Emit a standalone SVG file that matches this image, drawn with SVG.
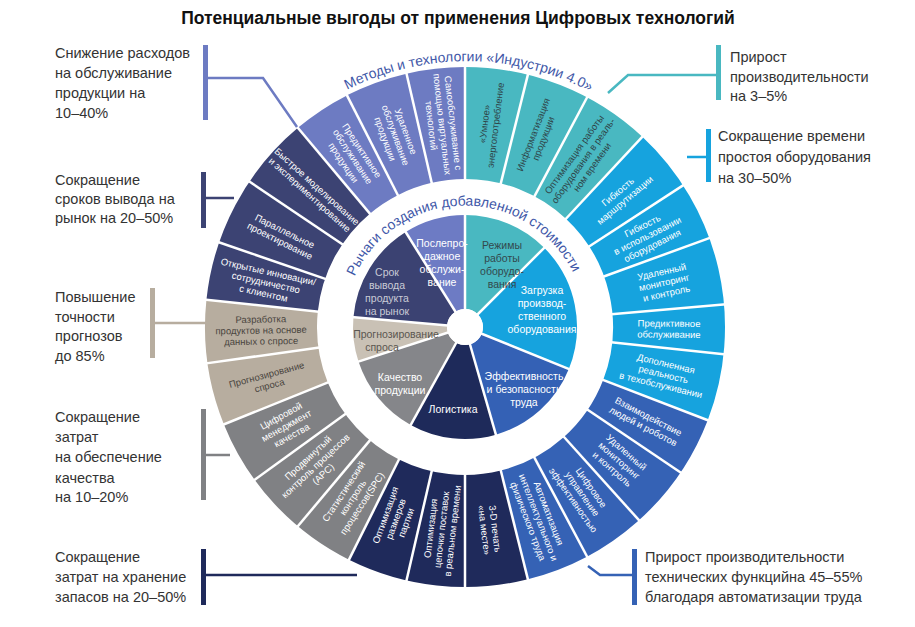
<svg xmlns="http://www.w3.org/2000/svg" width="915" height="627" viewBox="0 0 915 627">
<defs>
<style>
text{font-family:"Liberation Sans",Arial,sans-serif}
.seg{fill:none;stroke-width:112}
.sec{fill:none;stroke-width:94}
.sep{stroke:#fff;stroke-width:2.5}
.st{font-size:9.5px;text-anchor:middle;fill:#fff}
.sd{fill:#2f4448}
.sb{fill:#4a4540}
.it{font-size:10.5px;text-anchor:middle;fill:#fff}
.co{font-size:14.5px;fill:#333}
.arc{font-size:14px;fill:#3f58a8}
</style>
<path id="outerArc" d="M 327.7 100.5 A 266 266 0 0 1 609.1 102.6" fill="none"/>
<path id="innerArc" d="M 350.9 285.5 A 121 121 0 0 1 577.1 281.7" fill="none"/>
</defs>
<rect width="915" height="627" fill="#fff"/>
<text x="458" y="24" font-size="17.5" font-weight="bold" text-anchor="middle" fill="#111">Потенциальные выгоды от применения Цифровых технологий</text>

<g id="outer-ring">
<g stroke="#6d7bc2"><circle class="seg" cx="465" cy="327" r="204" pathLength="360" stroke-dasharray="13 400" transform="rotate(-130 465 327)"/><circle class="seg" cx="465" cy="327" r="204" pathLength="360" stroke-dasharray="14 400" transform="rotate(-117 465 327)"/><circle class="seg" cx="465" cy="327" r="204" pathLength="360" stroke-dasharray="13 400" transform="rotate(-103 465 327)"/></g>
<g stroke="#3c4373"><circle class="seg" cx="465" cy="327" r="204" pathLength="360" stroke-dasharray="44 400" transform="rotate(-174 465 327)"/></g>
<g stroke="#b7ad9f"><circle class="seg" cx="465" cy="327" r="204" pathLength="360" stroke-dasharray="28 400" transform="rotate(-202 465 327)"/></g>
<g stroke="#808184"><circle class="seg" cx="465" cy="327" r="204" pathLength="360" stroke-dasharray="41.5 400" transform="rotate(-243.5 465 327)"/></g>
<g stroke="#1f2a5b"><circle class="seg" cx="465" cy="327" r="204" pathLength="360" stroke-dasharray="40.5 400" transform="rotate(76 465 327)"/></g>
<g stroke="#3562b5"><circle class="seg" cx="465" cy="327" r="204" pathLength="360" stroke-dasharray="55 400" transform="rotate(21 465 327)"/></g>
<g stroke="#16a3de"><circle class="seg" cx="465" cy="327" r="204" pathLength="360" stroke-dasharray="68 400" transform="rotate(-47 465 327)"/></g>
<g stroke="#49b8c1"><circle class="seg" cx="465" cy="327" r="204" pathLength="360" stroke-dasharray="43 400" transform="rotate(-90 465 327)"/></g>
</g>

<g id="inner-ring">
<circle class="sec" stroke="#6d7bc4" cx="465" cy="327" r="65" pathLength="360" stroke-dasharray="32 400" transform="rotate(-122 465 327)"/>
<circle class="sec" stroke="#3b4272" cx="465" cy="327" r="65" pathLength="360" stroke-dasharray="53 400" transform="rotate(-175 465 327)"/>
<circle class="sec" stroke="#c9c1b5" cx="465" cy="327" r="65" pathLength="360" stroke-dasharray="23 400" transform="rotate(-198 465 327)"/>
<circle class="sec" stroke="#85868a" cx="465" cy="327" r="65" pathLength="360" stroke-dasharray="43 400" transform="rotate(-241 465 327)"/>
<circle class="sec" stroke="#1e2a5a" cx="465" cy="327" r="65" pathLength="360" stroke-dasharray="45 400" transform="rotate(74 465 327)"/>
<circle class="sec" stroke="#3461b5" cx="465" cy="327" r="65" pathLength="360" stroke-dasharray="52 400" transform="rotate(22 465 327)"/>
<circle class="sec" stroke="#16a3de" cx="465" cy="327" r="65" pathLength="360" stroke-dasharray="67 400" transform="rotate(-45 465 327)"/>
<circle class="sec" stroke="#49b8c1" cx="465" cy="327" r="65" pathLength="360" stroke-dasharray="45 400" transform="rotate(-90 465 327)"/>
<circle cx="465" cy="327" r="18" fill="#fff"/>
</g>

<g id="separators">
<line class="sep" x1="465" y1="180" x2="465" y2="62" transform="rotate(0 465 327)"/>
<line class="sep" x1="465" y1="180" x2="465" y2="62" transform="rotate(-13 465 327)"/>
<line class="sep" x1="465" y1="180" x2="465" y2="62" transform="rotate(-27 465 327)"/>
<line class="sep" x1="465" y1="180" x2="465" y2="62" transform="rotate(-40 465 327)"/>
<line class="sep" x1="465" y1="180" x2="465" y2="62" transform="rotate(-56 465 327)"/>
<line class="sep" x1="465" y1="180" x2="465" y2="62" transform="rotate(-71 465 327)"/>
<line class="sep" x1="465" y1="180" x2="465" y2="62" transform="rotate(-84 465 327)"/>
<line class="sep" x1="465" y1="180" x2="465" y2="62" transform="rotate(-98 465 327)"/>
<line class="sep" x1="465" y1="180" x2="465" y2="62" transform="rotate(-112 465 327)"/>
<line class="sep" x1="465" y1="180" x2="465" y2="62" transform="rotate(-126 465 327)"/>
<line class="sep" x1="465" y1="180" x2="465" y2="62" transform="rotate(-140 465 327)"/>
<line class="sep" x1="465" y1="180" x2="465" y2="62" transform="rotate(-153.5 465 327)"/>
<line class="sep" x1="465" y1="180" x2="465" y2="62" transform="rotate(-167 465 327)"/>
<line class="sep" x1="465" y1="180" x2="465" y2="62" transform="rotate(180 465 327)"/>
<line class="sep" x1="465" y1="180" x2="465" y2="62" transform="rotate(166 465 327)"/>
<line class="sep" x1="465" y1="180" x2="465" y2="62" transform="rotate(152 465 327)"/>
<line class="sep" x1="465" y1="180" x2="465" y2="62" transform="rotate(138 465 327)"/>
<line class="sep" x1="465" y1="180" x2="465" y2="62" transform="rotate(124 465 327)"/>
<line class="sep" x1="465" y1="180" x2="465" y2="62" transform="rotate(111 465 327)"/>
<line class="sep" x1="465" y1="180" x2="465" y2="62" transform="rotate(96 465 327)"/>
<line class="sep" x1="465" y1="180" x2="465" y2="62" transform="rotate(85 465 327)"/>
<line class="sep" x1="465" y1="180" x2="465" y2="62" transform="rotate(70 465 327)"/>
<line class="sep" x1="465" y1="180" x2="465" y2="62" transform="rotate(57 465 327)"/>
<line class="sep" x1="465" y1="180" x2="465" y2="62" transform="rotate(43 465 327)"/>
<line class="sep" x1="465" y1="180" x2="465" y2="62" transform="rotate(28 465 327)"/>
<line class="sep" x1="465" y1="180" x2="465" y2="62" transform="rotate(14 465 327)"/>
<line class="sep" x1="465" y1="327" x2="465" y2="210" transform="rotate(0 465 327)"/>
<line class="sep" x1="465" y1="327" x2="465" y2="210" transform="rotate(-32 465 327)"/>
<line class="sep" x1="465" y1="327" x2="465" y2="210" transform="rotate(-85 465 327)"/>
<line class="sep" x1="465" y1="327" x2="465" y2="210" transform="rotate(-108 465 327)"/>
<line class="sep" x1="465" y1="327" x2="465" y2="210" transform="rotate(-151 465 327)"/>
<line class="sep" x1="465" y1="327" x2="465" y2="210" transform="rotate(164 465 327)"/>
<line class="sep" x1="465" y1="327" x2="465" y2="210" transform="rotate(112 465 327)"/>
<line class="sep" x1="465" y1="327" x2="465" y2="210" transform="rotate(45 465 327)"/>
</g>

<g id="outer-labels">
<g transform="rotate(-6.5 465 327) translate(465 123) rotate(90)"><text class="st" y="-8">Самообслуживание с</text><text class="st" y="3">помощью виртуальных</text><text class="st" y="14">технологий</text></g>
<g transform="rotate(-20 465 327) translate(465 123) rotate(90)"><text class="st" y="-8">Удаленное</text><text class="st" y="3">обслуживание</text><text class="st" y="14">продукции</text></g>
<g transform="rotate(-33.5 465 327) translate(465 123) rotate(90)"><text class="st" y="-8">Предиктивное</text><text class="st" y="3">обслуживание</text><text class="st" y="14">продукции</text></g>
<g transform="rotate(-48 465 327) translate(465 123) rotate(90)"><text class="st" y="-2">Быстрое моделирование</text><text class="st" y="9">и экспериментирование</text></g>
<g transform="rotate(-63.5 465 327) translate(465 123) rotate(90)"><text class="st" y="-2">Параллельное</text><text class="st" y="9">проектирование</text></g>
<g transform="rotate(-77.5 465 327) translate(465 123) rotate(90)"><text class="st" y="-8">Открытые инновации/</text><text class="st" y="3">сотрудничество</text><text class="st" y="14">с клиентом</text></g>
<g transform="rotate(-91 465 327) translate(465 123) rotate(90)"><text class="st sb" y="-8">Разработка</text><text class="st sb" y="3">продуктов на основе</text><text class="st sb" y="14">данных о спросе</text></g>
<g transform="rotate(-105 465 327) translate(465 123) rotate(90)"><text class="st sb" y="-2">Прогнозирование</text><text class="st sb" y="9">спроса</text></g>
<g transform="rotate(-119 465 327) translate(465 123) rotate(90)"><text class="st" y="-8">Цифровой</text><text class="st" y="3">менеджмент</text><text class="st" y="14">качества</text></g>
<g transform="rotate(-133 465 327) translate(465 123) rotate(90)"><text class="st" y="-8">Продвинутый</text><text class="st" y="3">контроль процессов</text><text class="st" y="14">(APC)</text></g>
<g transform="rotate(-146.75 465 327) translate(465 123) rotate(90)"><text class="st" y="-8">Статистический</text><text class="st" y="3">контроль</text><text class="st" y="14">процессов(SPC)</text></g>
<g transform="rotate(-160.25 465 327) translate(465 123) rotate(90)"><text class="st" y="-8">Оптимизация</text><text class="st" y="3">размеров</text><text class="st" y="14">партии</text></g>
<g transform="rotate(-173.5 465 327) translate(465 123) rotate(90)"><text class="st" y="-8">Оптимизация</text><text class="st" y="3">цепочки поставок</text><text class="st" y="14">в реальном времени</text></g>
<g transform="rotate(173 465 327) translate(465 123) rotate(-90)"><text class="st" y="-2">3-D печать</text><text class="st" y="9">«на месте»</text></g>
<g transform="rotate(159 465 327) translate(465 123) rotate(-90)"><text class="st" y="-8">Автоматизация</text><text class="st" y="3">интеллектуального и</text><text class="st" y="14">физического труда</text></g>
<g transform="rotate(145 465 327) translate(465 123) rotate(-90)"><text class="st" y="-8">Цифровое</text><text class="st" y="3">управление</text><text class="st" y="14">эффективностью</text></g>
<g transform="rotate(131 465 327) translate(465 123) rotate(-90)"><text class="st" y="-8">Удаленный</text><text class="st" y="3">мониторинг</text><text class="st" y="14">и контроль</text></g>
<g transform="rotate(117.5 465 327) translate(465 123) rotate(-90)"><text class="st" y="-2">Взаимодействие</text><text class="st" y="9">людей и роботов</text></g>
<g transform="rotate(103.5 465 327) translate(465 123) rotate(-90)"><text class="st" y="-8">Дополненная</text><text class="st" y="3">реальность</text><text class="st" y="14">в техобслуживании</text></g>
<g transform="rotate(90.5 465 327) translate(465 123) rotate(-90)"><text class="st" y="-2">Предиктивное</text><text class="st" y="9">обслуживание</text></g>
<g transform="rotate(77.5 465 327) translate(465 123) rotate(-90)"><text class="st" y="-8">Удаленный</text><text class="st" y="3">мониторинг</text><text class="st" y="14">и контроль</text></g>
<g transform="rotate(63.5 465 327) translate(465 123) rotate(-90)"><text class="st" y="-8">Гибкость</text><text class="st" y="3">в использовании</text><text class="st" y="14">оборудования</text></g>
<g transform="rotate(50 465 327) translate(465 123) rotate(-90)"><text class="st" y="-2">Гибкость</text><text class="st" y="9">маршрутизации</text></g>
<g transform="rotate(35.5 465 327) translate(465 123) rotate(-90)"><text class="st sd" y="-8">Оптимизация работы</text><text class="st sd" y="3">оборудования в реаль-</text><text class="st sd" y="14">ном времени</text></g>
<g transform="rotate(21 465 327) translate(465 123) rotate(-90)"><text class="st sd" y="-2">Информатизация</text><text class="st sd" y="9">продукции</text></g>
<g transform="rotate(7 465 327) translate(465 123) rotate(-90)"><text class="st sd" y="-2">«Умное»</text><text class="st sd" y="9">энергопотребление</text></g>
</g>

<g id="inner-labels">
<text class="it" x="442" y="247">Послепро-</text><text class="it" x="442" y="260">дажное</text><text class="it" x="442" y="273">обслужи-</text><text class="it" x="442" y="286">вание</text>
<text class="it" style="fill:#33484d" x="502" y="249">Режимы</text><text class="it" style="fill:#33484d" x="502" y="262">работы</text><text class="it" style="fill:#33484d" x="502" y="275">оборудо-</text><text class="it" style="fill:#33484d" x="502" y="288">вания</text>
<text class="it" x="542" y="294">Загрузка</text><text class="it" x="542" y="307">производ-</text><text class="it" x="542" y="320">ственного</text><text class="it" x="542" y="333">оборудования</text>
<text class="it" x="524" y="380">Эффективность</text><text class="it" x="524" y="393">и безопасность</text><text class="it" x="524" y="406">труда</text>
<text class="it" x="453" y="413">Логистика</text>
<text class="it" x="400" y="381">Качество</text><text class="it" x="400" y="394">продукции</text>
<text class="it" style="fill:#5a5650" x="396" y="338">Прогнозирование</text><text class="it" style="fill:#5a5650" x="382" y="351">спроса</text>
<text class="it" style="fill:#c9cbd6" x="387" y="276">Срок</text><text class="it" style="fill:#c9cbd6" x="387" y="289">вывода</text><text class="it" style="fill:#c9cbd6" x="387" y="302">продукта</text><text class="it" style="fill:#c9cbd6" x="387" y="315">на рынок</text>
</g>

<text class="arc"><textPath href="#innerArc" startOffset="50%" text-anchor="middle">Рычаги создания добавленной стоимости</textPath></text>
<text class="arc"><textPath href="#outerArc" startOffset="50%" text-anchor="middle">Методы и технологии «Индустрии 4.0»</textPath></text>

<g id="connectors" fill="none" stroke-width="2.5">
<path d="M206 78 H263 L297 127" stroke="#6d7bc2"/>
<path d="M204 198 H234" stroke="#3c4373"/>
<path d="M152 323 H207" stroke="#b7ad9f"/>
<path d="M204 455 H230" stroke="#808184"/>
<path d="M204 575 H357" stroke="#1f2a5b"/>
<path d="M718 75 H628 L608 93" stroke="#49b8c1"/>
<path d="M708 157 H687" stroke="#16a3de"/>
<path d="M634 575 H600 L588 566" stroke="#3562b5"/>
</g>

<g id="callouts">
<rect x="203" y="45" width="5" height="75" fill="#6d7bc2"/>
<text class="co" x="55" y="58">Снижение расходов</text><text class="co" x="55" y="78">на обслуживание</text><text class="co" x="55" y="98">продукции на</text><text class="co" x="55" y="118">10–40%</text>
<rect x="201" y="172" width="5" height="56" fill="#3c4373"/>
<text class="co" x="55" y="185">Сокращение</text><text class="co" x="55" y="204">сроков вывода на</text><text class="co" x="55" y="223">рынок на 20–50%</text>
<rect x="150" y="288" width="5" height="70" fill="#b7ad9f"/>
<text class="co" x="55" y="302">Повышение</text><text class="co" x="55" y="322">точности</text><text class="co" x="55" y="341">прогнозов</text><text class="co" x="55" y="361">до 85%</text>
<rect x="201" y="409" width="5" height="91" fill="#808184"/>
<text class="co" x="55" y="422">Сокращение</text><text class="co" x="55" y="442">затрат</text><text class="co" x="55" y="462">на обеспечение</text><text class="co" x="55" y="483">качества</text><text class="co" x="55" y="502">на 10–20%</text>
<rect x="201" y="549" width="5" height="56" fill="#1f2a5b"/>
<text class="co" x="55" y="562">Сокращение</text><text class="co" x="55" y="582">затрат на хранение</text><text class="co" x="55" y="602">запасов на 20–50%</text>
<rect x="716" y="45" width="5" height="55" fill="#49b8c1"/>
<text class="co" x="730" y="62">Прирост</text><text class="co" x="730" y="82">производительности</text><text class="co" x="730" y="101">на 3–5%</text>
<rect x="706" y="129" width="5" height="53" fill="#16a3de"/>
<text class="co" x="718" y="141">Сокращение времени</text><text class="co" x="718" y="162">простоя оборудования</text><text class="co" x="718" y="183">на 30–50%</text>
<rect x="632" y="549" width="5" height="56" fill="#3562b5"/>
<text class="co" x="645" y="562">Прирост производительности</text><text class="co" x="645" y="582">технических функцийна 45–55%</text><text class="co" x="645" y="602">благодаря автоматизации труда</text>
</g>
</svg>
